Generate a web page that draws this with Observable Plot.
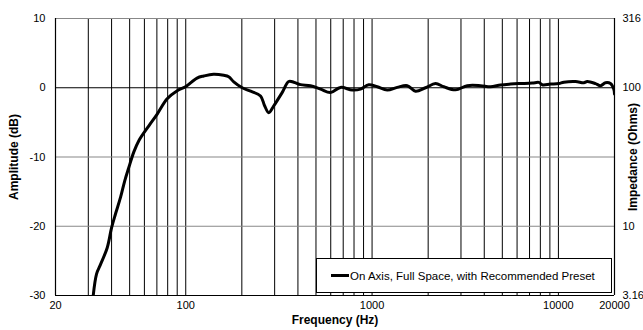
<!DOCTYPE html>
<html>
<head>
<meta charset="utf-8">
<script src="https://cdn.jsdelivr.net/npm/d3@7"></script>
<script src="https://cdn.jsdelivr.net/npm/@observablehq/plot@0.6"></script>
<style>
  html, body { margin: 0; padding: 0; background: #fff; }
  #wrap { position: relative; width: 643px; height: 330px; font-family: "Liberation Sans", Arial, sans-serif; }
  #legend { position: absolute; left: 316px; top: 258px; width: 296px; height: 35px; background: #fff; border: 1px solid #000; box-sizing: border-box; display: flex; align-items: center; font-size: 11.5px; color: #000; }
  #legend .swatch { display: inline-block; width: 18px; height: 3px; background: #000; margin-left: 14px; margin-right: 1px; }
</style>
</head>
<body>
<div id="wrap"></div>
<script>
// Frequency (Hz) and amplitude (dB)
const freq = [31.6, 33.2, 34.9, 37.9, 40, 42, 44.7, 47.1, 49.5, 52.6, 56, 63.4, 70.3, 79.5, 90, 99.7, 115, 125, 141, 160, 170, 181, 201, 223, 252, 265, 279, 297, 329, 357, 380, 413, 467, 529, 598, 677, 782, 867, 960, 1066, 1206, 1364, 1544, 1710, 1936, 2190, 2427, 2805, 3240, 3818, 4321, 4890, 5532, 6132, 7232, 7852, 8185, 9070, 10048, 10692, 12358, 13690, 14280, 15816, 16828, 17898, 19040, 19834, 20000];
const amp  = [-31, -26.9, -25.5, -23.1, -20.2, -18.2, -15.8, -13.4, -11.5, -9.3, -7.65, -5.5, -3.8, -1.6, -0.43, 0.14, 1.4, 1.7, 1.95, 1.8, 1.6, 0.85, 0.0, -0.5, -1.2, -2.6, -3.6, -2.6, -0.7, 0.9, 0.8, 0.45, 0.3, -0.2, -0.7, 0.05, -0.33, -0.2, 0.43, 0.14, -0.33, 0.05, 0.3, -0.5, 0.0, 0.6, 0.14, -0.3, 0.3, 0.3, 0.14, 0.4, 0.53, 0.6, 0.67, 0.77, 0.43, 0.53, 0.6, 0.8, 0.9, 0.72, 0.9, 0.6, 0.3, 0.72, 0.6, -0.2, -0.9];

const xTickLabels = [20, 50, 100, 1000, 10000, 20000];
const yTickLabels = [10, 0, -10, -20, -30];
const impTickLabels = [316, 100, 10, 3.16];
const vGrid = [30, 40, 50, 60, 70, 80, 90, 100, 200, 300, 400, 500, 600, 700, 800, 900, 1000, 2000, 3000, 4000, 5000, 6000, 7000, 8000, 9000, 10000];
const grayGrid = [10, -10, -20];
const blackGrid = [0, -30];
const frameX = [20, 20000];
const seriesName = "On Axis, Full Space, with Recommended Preset";

const data = freq.map((f, i) => ({f, a: amp[i]}));
const impDb = impTickLabels.map(z => 20 * Math.log10(z / 100));

const chart = Plot.plot({
  width: 643,
  height: 330,
  marginLeft: 55,
  marginRight: 29,
  marginTop: 18,
  marginBottom: 35,
  style: {fontFamily: "'Liberation Sans', Arial, sans-serif", fontSize: "11px", color: "#000", background: "#fff"},
  x: {type: "log", domain: [20, 20000]},
  y: {domain: [-30, 10]},
  marks: [
    Plot.ruleX(vGrid, {stroke: "#000", strokeWidth: 1}),
    Plot.ruleY(grayGrid, {stroke: "#888", strokeWidth: 1.2}),
    Plot.ruleY(blackGrid, {stroke: "#000", strokeWidth: 1.2}),
    Plot.ruleX(frameX, {stroke: "#000", strokeWidth: 1.2}),
    Plot.line(data, {x: "f", y: "a", stroke: "#000", strokeWidth: 3, curve: "catmull-rom", clip: true}),
    Plot.axisX(xTickLabels, {tickSize: 0, tickPadding: 6, tickFormat: d => String(d), label: null, fontSize: 11}),
    Plot.axisY(yTickLabels, {anchor: "left", tickSize: 0, tickPadding: 10, tickFormat: d => String(d), label: null, fontSize: 11}),
    Plot.axisY(impDb, {anchor: "right", tickSize: 0, tickPadding: 8, tickFormat: (d, i) => String(impTickLabels[i]), label: null, fontSize: 11}),
    Plot.text(["Amplitude (dB)"], {frameAnchor: "left", dx: -41, rotate: -90, textAnchor: "middle", fontWeight: "bold", fontSize: 12}),
    Plot.text(["Impedance (Ohms)"], {frameAnchor: "right", dx: 19, rotate: -90, textAnchor: "middle", fontWeight: "bold", fontSize: 12}),
    Plot.text(["Frequency (Hz)"], {frameAnchor: "bottom", dy: 28, fontWeight: "bold", fontSize: 12})
  ]
});

const wrap = document.getElementById("wrap");
wrap.appendChild(chart);
const legend = document.createElement("div");
legend.id = "legend";
legend.innerHTML = `<span class="swatch"></span><span></span>`;
legend.lastChild.textContent = seriesName;
wrap.appendChild(legend);
</script>
</body>
</html>
